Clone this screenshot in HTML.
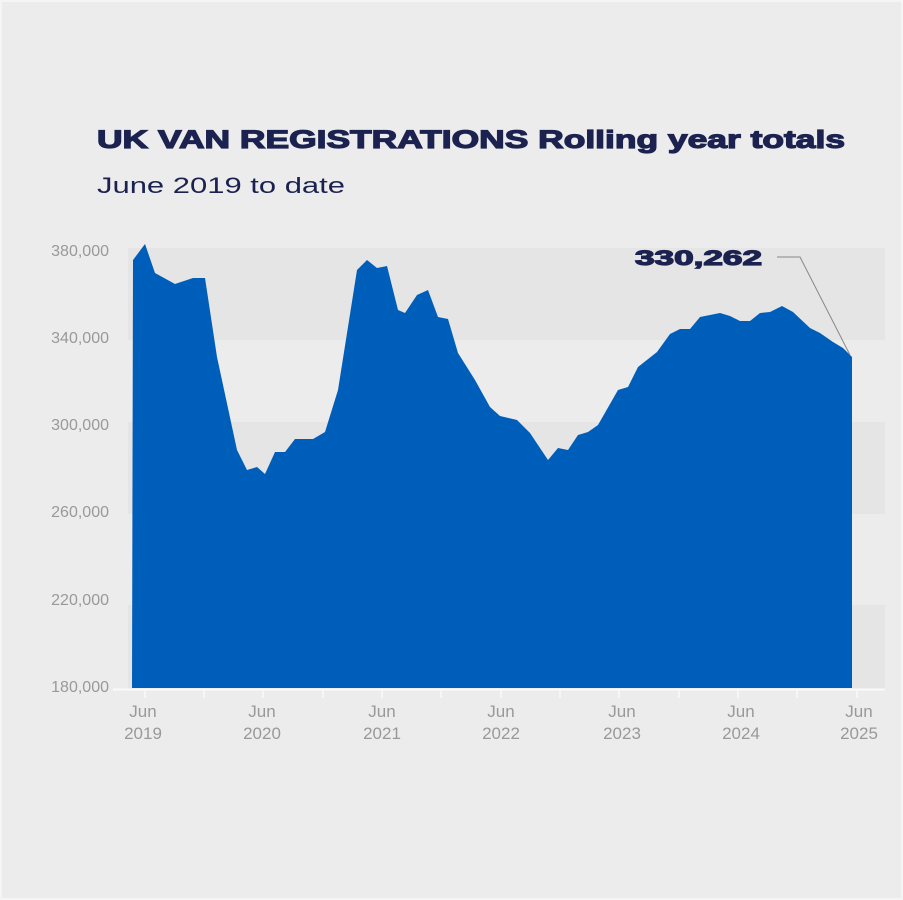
<!DOCTYPE html>
<html><head><meta charset="utf-8"><style>
html,body{margin:0;padding:0;background:#ececec;}
svg{display:block;}
</style></head><body>
<svg width="903" height="900" viewBox="0 0 903 900" xmlns="http://www.w3.org/2000/svg">
<rect x="0" y="0" width="903" height="900" fill="#ececec"/>
<rect x="1" y="1" width="901" height="898" fill="none" stroke="#f5f5f5" stroke-width="2"/>
<text x="97" y="148" font-family="Liberation Sans, sans-serif" font-weight="bold" font-size="25" fill="#1c2250" stroke="#1c2250" stroke-width="1.2" textLength="748" lengthAdjust="spacingAndGlyphs">UK VAN REGISTRATIONS Rolling year totals</text>
<text x="97" y="193" font-family="Liberation Sans, sans-serif" font-size="22" fill="#1c2250" textLength="248" lengthAdjust="spacingAndGlyphs">June 2019 to date</text>
<rect x="128" y="248" width="757" height="92" fill="#e5e5e5"/>
<rect x="128" y="422" width="757" height="92" fill="#e5e5e5"/>
<rect x="128" y="605" width="757" height="84" fill="#e5e5e5"/>
<g font-family="Liberation Sans, sans-serif" font-size="16" fill="#999" text-anchor="end">
<text x="109" y="256">380,000</text>
<text x="109" y="343">340,000</text>
<text x="109" y="430">300,000</text>
<text x="109" y="517">260,000</text>
<text x="109" y="605">220,000</text>
<text x="109" y="692">180,000</text>
</g>
<polygon fill="#005ebb" points="132,688 133,260 145,244 155,273 175,284 193,278 205,278 217,357 237,450 247,470 257,467 265,474 275,452 285,452 295,439 313,439 325,432 338,390 357,270 367,260 377,268 387,266 398,310 405,313 417,295 428,290 438,317 448,319 458,353 475,380 490,407 500,416 517,420 530,433 548,460 558,448 568,450 578,435 588,432 598,425 618,390 628,387 638,367 657,352 670,334 680,329 690,329 700,317 720,313 730,316 740,321 750,321 760,313 770,312 782,306 793,312 810,328 820,333 833,342 843,348 852,357 852,688"/>
<line x1="113" y1="689.5" x2="885" y2="689.5" stroke="#fafafa" stroke-width="2"/>
<g stroke="#fafafa" stroke-width="1.5">
<line x1="145" y1="690" x2="145" y2="698"/><line x1="204" y1="690" x2="204" y2="698"/>
<line x1="263" y1="690" x2="263" y2="698"/><line x1="323" y1="690" x2="323" y2="698"/>
<line x1="382" y1="690" x2="382" y2="698"/><line x1="441" y1="690" x2="441" y2="698"/>
<line x1="501" y1="690" x2="501" y2="698"/><line x1="560" y1="690" x2="560" y2="698"/>
<line x1="619" y1="690" x2="619" y2="698"/><line x1="679" y1="690" x2="679" y2="698"/>
<line x1="738" y1="690" x2="738" y2="698"/><line x1="797" y1="690" x2="797" y2="698"/>
<line x1="857" y1="690" x2="857" y2="698"/>
</g>
<g font-family="Liberation Sans, sans-serif" font-size="17" fill="#999" text-anchor="middle">
<text x="143" y="717">Jun</text><text x="143" y="739">2019</text>
<text x="262" y="717">Jun</text><text x="262" y="739">2020</text>
<text x="382" y="717">Jun</text><text x="382" y="739">2021</text>
<text x="501" y="717">Jun</text><text x="501" y="739">2022</text>
<text x="622" y="717">Jun</text><text x="622" y="739">2023</text>
<text x="741" y="717">Jun</text><text x="741" y="739">2024</text>
<text x="859" y="717">Jun</text><text x="859" y="739">2025</text>
</g>
<text x="762" y="265" text-anchor="end" font-family="Liberation Sans, sans-serif" font-weight="bold" font-size="21" fill="#1c2250" stroke="#1c2250" stroke-width="1.2" textLength="127" lengthAdjust="spacingAndGlyphs">330,262</text>
<polyline points="777,257 800,257 850,355" fill="none" stroke="#888" stroke-width="1"/>
</svg>
</body></html>
